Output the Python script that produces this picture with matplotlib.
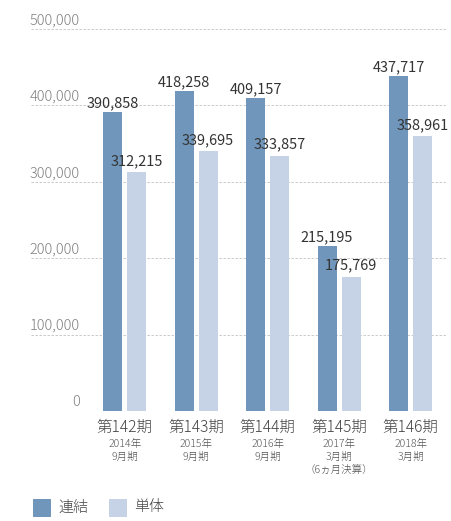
import matplotlib
matplotlib.use("Agg")
import matplotlib.pyplot as plt
from matplotlib.patches import Rectangle
from matplotlib.transforms import blended_transform_factory

plt.rcParams['font.family'] = ['Noto Sans CJK JP', 'DejaVu Sans']

periods = ["第142期", "第143期", "第144期", "第145期", "第146期"]
years = ["2014年", "2015年", "2016年", "2017年", "2018年"]
months = ["9月期", "9月期", "9月期", "3月期", "3月期"]
notes = ["", "", "", "（6ヵ月決算）", ""]
consolidated = [390858, 418258, 409157, 215195, 437717]
standalone = [312215, 339695, 333857, 175769, 358961]
yticks = [0, 100000, 200000, 300000, 400000, 500000]
legend_labels = ["連結", "単体"]

dark = "#7096bb"
light = "#c6d3e7"
W, H = 451, 521
fig = plt.figure(figsize=(W / 72, H / 72), dpi=72)
fig.patch.set_facecolor("white")

ax_left, ax_right, ax_top, ax_bot = 31, 447, 28.5, 411
ax = fig.add_axes([ax_left / W, 1 - ax_bot / H, (ax_right - ax_left) / W, (ax_bot - ax_top) / H])
ax.set_ylim(0, 500000)
ax.set_xlim(-1.31, 4.51)
for s in ax.spines.values():
    s.set_visible(False)
ax.set_xticks([])
ax.set_yticks([])

for v in yticks[1:]:
    ax.axhline(v, color="#bdbdbd", lw=0.8, ls=(0, (3, 2)), zorder=0, clip_on=False)
ax.axhline(0, color="#8a8a8a", lw=1.0, zorder=3)

tr = blended_transform_factory(fig.transFigure, ax.transData)
for v in yticks:
    ax.annotate(f"{v:,}", xy=(80 / W, v), xycoords=tr, xytext=(0, 1.5),
                textcoords="offset points", ha="right", va="bottom",
                fontsize=14.5, color="#808080", fontweight="light")

bw = 0.265
off = 0.168
xs = list(range(len(periods)))
ax.bar([x - off for x in xs], consolidated, width=bw, color=dark, zorder=2)
ax.bar([x + off for x in xs], standalone, width=bw, color=light, zorder=2)

for x, v in zip(xs, consolidated):
    ax.annotate(f"{v:,}", xy=(x - off, v), xytext=(0, 2), textcoords="offset points",
                ha="center", va="bottom", fontsize=14.5, color="#333333", zorder=5)
for x, v in zip(xs, standalone):
    ax.annotate(f"{v:,}", xy=(x + off, v), xytext=(0, 4), textcoords="offset points",
                ha="center", va="bottom", fontsize=14.5, color="#333333", zorder=5)

for x, p, yr, m, n in zip(xs, periods, years, months, notes):
    ax.annotate(p, xy=(x, 0), xytext=(0, -16), textcoords="offset points",
                ha="center", va="center", fontsize=15.5, color="#444444", fontweight="light")
    ax.annotate(yr, xy=(x, 0), xytext=(0, -34), textcoords="offset points",
                ha="center", va="center", fontsize=10.5, color="#555555", fontweight="light")
    ax.annotate(m, xy=(x, 0), xytext=(0, -46.5), textcoords="offset points",
                ha="center", va="center", fontsize=10.5, color="#555555", fontweight="light")
    if n:
        ax.annotate(n, xy=(x, 0), xytext=(0, -59), textcoords="offset points",
                    ha="center", va="center", fontsize=10.5, color="#555555", fontweight="light")

# legend
for (sx, col, lab) in [(33, dark, legend_labels[0]), (109, light, legend_labels[1])]:
    fig.patches.append(Rectangle((sx / W, 1 - 516 / H), 17 / W, 17 / H,
                                 transform=fig.transFigure, color=col))
    fig.text((sx + 25) / W, 1 - 507.5 / H, lab, ha="left", va="center",
             fontsize=15, color="#444444", fontweight="light")

fig.savefig("out.png", dpi=72, facecolor="white")
